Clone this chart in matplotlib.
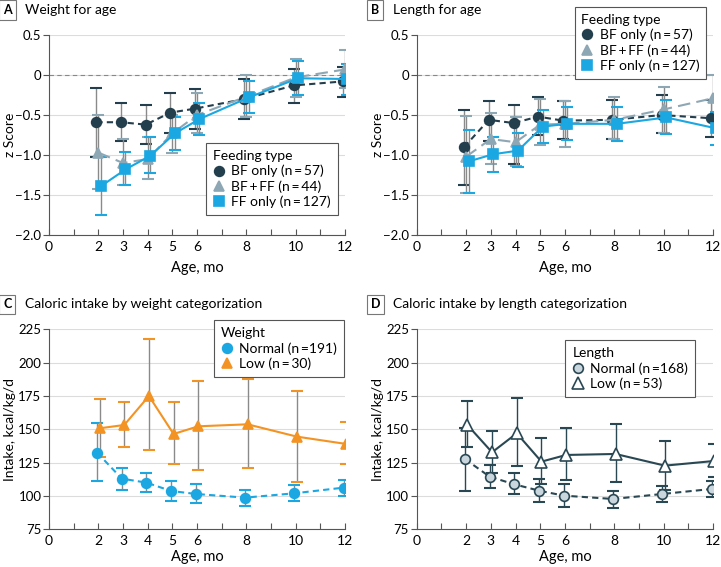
import matplotlib.pyplot as plt
from matplotlib.lines import Line2D
import numpy as np

plt.rcParams['font.family'] = ['Lato', 'DejaVu Sans']

# Months of follow-up
months = [2, 3, 4, 5, 6, 8, 10, 12]

# A: weight-for-age z scores (mean, lower CI, upper CI)
wfa_bf = [-0.59, -0.59, -0.62, -0.47, -0.42, -0.30, -0.13, -0.08]
wfa_bf_lo = [-1.02, -0.83, -0.86, -0.72, -0.67, -0.55, -0.35, -0.27]
wfa_bf_hi = [-0.16, -0.35, -0.38, -0.22, -0.17, -0.05, 0.08, 0.10]
wfa_mix = [-0.97, -1.10, -1.05, -0.73, -0.50, -0.27, -0.03, 0.07]
wfa_mix_lo = [-1.42, -1.38, -1.30, -0.97, -0.72, -0.52, -0.27, -0.16]
wfa_mix_hi = [-0.50, -0.80, -0.78, -0.50, -0.22, 0.00, 0.20, 0.31]
wfa_ff = [-1.39, -1.18, -1.01, -0.73, -0.55, -0.28, -0.04, -0.05]
wfa_ff_lo = [-1.75, -1.38, -1.23, -0.94, -0.75, -0.48, -0.25, -0.25]
wfa_ff_hi = [-1.03, -0.96, -0.78, -0.52, -0.35, -0.07, 0.17, 0.14]

# B: length-for-age z scores
lfa_bf = [-0.90, -0.56, -0.60, -0.52, -0.57, -0.56, -0.50, -0.54]
lfa_bf_lo = [-1.38, -0.83, -1.11, -0.75, -0.80, -0.80, -0.73, -0.78]
lfa_bf_hi = [-0.44, -0.32, -0.38, -0.28, -0.33, -0.31, -0.25, -0.31]
lfa_mix = [-1.02, -0.80, -0.84, -0.62, -0.61, -0.56, -0.43, -0.29]
lfa_mix_lo = [-1.47, -1.11, -1.14, -0.88, -0.90, -0.80, -0.72, -0.58]
lfa_mix_hi = [-0.51, -0.47, -0.52, -0.30, -0.33, -0.28, -0.15, 0.00]
lfa_ff = [-1.08, -0.99, -0.945, -0.645, -0.61, -0.61, -0.53, -0.665]
lfa_ff_lo = [-1.47, -1.21, -1.15, -0.855, -0.81, -0.82, -0.74, -0.875]
lfa_ff_hi = [-0.69, -0.77, -0.73, -0.44, -0.40, -0.40, -0.31, -0.46]

# C: caloric intake by weight category (kcal/kg/d)
cw_norm = [132.5, 113, 110, 103.75, 101.5, 98.75, 102, 106.25]
cw_norm_lo = [111.5, 104.75, 103, 96.25, 94.5, 92.5, 96.5, 100.25]
cw_norm_hi = [154.5, 120.75, 117.5, 111.25, 109.25, 104.75, 108, 112.25]
cw_low = [150.75, 153.25, 175, 146.5, 152.25, 153.75, 144.5, 139]
cw_low_lo = [129, 136.75, 134.5, 124, 119.5, 121, 110.5, 124]
cw_low_hi = [172.75, 170.25, 217.5, 170.5, 186, 187.5, 179, 155.75]

# D: caloric intake by length category
cl_norm = [127.75, 114.5, 108.75, 104, 100.25, 97.75, 101.5, 105.25]
cl_norm_lo = [104, 105.75, 101.25, 95.75, 92, 91.25, 95.5, 99]
cl_norm_hi = [150.75, 123.25, 117, 112.75, 108.75, 104, 107.75, 111.25]
cl_low = [153.25, 132.75, 147, 125.75, 130.75, 131.5, 122.75, 126.25]
cl_low_lo = [136.5, 117.5, 122.75, 109, 111.75, 110.25, 104.25, 114.5]
cl_low_hi = [171.5, 149, 173.25, 143.75, 151.25, 153.75, 141.5, 138.75]

DARK = '#233e4d'
MIX = '#8ea7b5'
BLUE = '#1ba7e1'
ORANGE = '#f39323'
TEAL = '#2a4853'
STEM = '#8a8a8a'

fig = plt.figure(figsize=(7.21, 5.67), dpi=100)


def setup(ax, ylim, yticks, ylabel, zero_line=False, xpad=6):
    ax.set_xlim(0, 12)
    ax.set_ylim(*ylim)
    ax.set_yticks(yticks)
    ax.set_xticks(range(13))
    ax.set_xticklabels(['0', '', '2', '3', '4', '5', '6', '', '8', '', '10', '', '12'])
    ax.set_xlabel('Age, mo', fontsize=10.5, labelpad=xpad)
    ax.set_ylabel(ylabel, fontsize=10)
    ax.yaxis.set_label_coords(-0.112, 0.5)
    for s in ['top', 'right']:
        ax.spines[s].set_visible(False)
    for s in ['left', 'bottom']:
        ax.spines[s].set_color('#555555')
        ax.spines[s].set_linewidth(0.8)
    ax.tick_params(axis='x', direction='in', length=4, color='#555555', labelsize=10, pad=4)
    ax.tick_params(axis='y', direction='out', length=4, color='#555555', labelsize=9.5, pad=1.5)
    ax.grid(axis='y', color='#dcdcdc', linewidth=0.8)
    ax.set_axisbelow(True)
    if zero_line:
        ax.axhline(0, color='#888888', linestyle=(0, (4, 3)), linewidth=0.8, zorder=1)


def series(ax, dx, y, lo, hi, color, marker, ls, stem, mfc=None, ms=7, z=3):
    x = np.array(months) + dx
    ax.vlines(x, lo, hi, color=stem, linewidth=1, zorder=z)
    ax.plot(x, lo, '_', color=color, ms=8, mew=1.5, zorder=z)
    ax.plot(x, hi, '_', color=color, ms=8, mew=1.5, zorder=z)
    ax.plot(x, y, color=color, linestyle=ls, linewidth=1.5, marker=marker, ms=ms,
            markerfacecolor=mfc if mfc else color, markeredgecolor=color,
            markeredgewidth=1.2, zorder=z + 1)
    return Line2D([], [], linestyle='none', marker=marker, ms=ms, color=color,
                  markerfacecolor=mfc if mfc else color, markeredgecolor=color,
                  markeredgewidth=1.2)


def panel_title(ax, letter, title):
    ax.text(-0.155, 1.125, letter, transform=ax.transAxes, fontsize=9, fontweight='bold',
            ha='left', va='center',
            bbox=dict(boxstyle='square,pad=0.3', fc='white', ec='#777777', lw=0.8))
    ax.text(-0.08, 1.125, title, transform=ax.transAxes, fontsize=10, ha='left', va='center')


def legend(ax, handles, labels, title, loc, anchor):
    leg = ax.legend(handles, labels, title=title, loc=loc, bbox_to_anchor=anchor, fontsize=10,
                    title_fontsize=10, frameon=True, fancybox=False, handlelength=0.8,
                    handletextpad=0.5, borderpad=0.5, labelspacing=0.2,
                    alignment='left', framealpha=1)
    leg.get_frame().set_edgecolor('#555555')
    leg.get_frame().set_linewidth(0.8)
    leg.set_zorder(10)
    return leg


feed_labels = ['BF only (n\u2009=\u200957)', 'BF\u2009+\u2009FF (n\u2009=\u200944)',
               'FF only (n\u2009=\u2009127)']
z_ticks = [-2.0, -1.5, -1.0, -0.5, 0, 0.5]
z_ticklabels = ['\u22122.0', '\u22121.5', '\u22121.0', '\u22120.5', '0', '0.5']
kcal_ticks = [75, 100, 125, 150, 175, 200, 225]

# Panel A
axA = fig.add_axes([0.068, 0.5855, 0.4105, 0.3527])
setup(axA, (-2.0, 0.5), z_ticks, 'z Score', zero_line=True)
axA.set_yticklabels(z_ticklabels)
h1 = series(axA, -0.08, wfa_bf, wfa_bf_lo, wfa_bf_hi, DARK, 'o', (0, (3, 2)), STEM)
h2 = series(axA, 0.0, wfa_mix, wfa_mix_lo, wfa_mix_hi, MIX, '^', (0, (6, 3)), STEM)
h3 = series(axA, 0.1, wfa_ff, wfa_ff_lo, wfa_ff_hi, BLUE, 's', '-', STEM)
legend(axA, [h1, h2, h3], feed_labels, 'Feeding type', 'lower right', (1.0, 0.065))
panel_title(axA, 'A', 'Weight for age')

# Panel B
axB = fig.add_axes([0.578, 0.5855, 0.411, 0.3527])
setup(axB, (-2.0, 0.5), z_ticks, 'z Score', zero_line=True)
axB.set_yticklabels(z_ticklabels)
h1 = series(axB, -0.08, lfa_bf, lfa_bf_lo, lfa_bf_hi, DARK, 'o', (0, (3, 2)), STEM)
h2 = series(axB, 0.0, lfa_mix, lfa_mix_lo, lfa_mix_hi, MIX, '^', (0, (6, 3)), STEM)
h3 = series(axB, 0.1, lfa_ff, lfa_ff_lo, lfa_ff_hi, BLUE, 's', '-', STEM)
legend(axB, [h1, h2, h3], feed_labels, 'Feeding type', 'upper right', (1.0, 1.175))
panel_title(axB, 'B', 'Length for age')

# Panel C
axC = fig.add_axes([0.068, 0.0665, 0.4105, 0.3527])
setup(axC, (75, 225), kcal_ticks, 'Intake, kcal/kg/d', xpad=2)
h1 = series(axC, -0.05, cw_norm, cw_norm_lo, cw_norm_hi, BLUE, 'o', (0, (3, 2)), STEM)
h2 = series(axC, 0.05, cw_low, cw_low_lo, cw_low_hi, ORANGE, '^', '-', STEM)
legend(axC, [h1, h2], ['Normal (n\u2009=191)', 'Low (n\u2009=\u200930)'], 'Weight',
       'upper right', (1.02, 1.08))
panel_title(axC, 'C', 'Caloric intake by weight categorization')

# Panel D
axD = fig.add_axes([0.578, 0.0665, 0.411, 0.3527])
setup(axD, (75, 225), kcal_ticks, 'Intake, kcal/kg/d', xpad=2)
h1 = series(axD, -0.05, cl_norm, cl_norm_lo, cl_norm_hi, TEAL, 'o', (0, (3, 2)), TEAL, mfc='#c9d6de')
h2 = series(axD, 0.05, cl_low, cl_low_lo, cl_low_hi, TEAL, '^', '-', TEAL, mfc='white', ms=8)
legend(axD, [h1, h2], ['Normal (n\u2009=168)', 'Low (n\u2009=\u200953)'], 'Length',
       'upper right', (0.963, 0.98))
panel_title(axD, 'D', 'Caloric intake by length categorization')

fig.savefig('out.png', dpi=100)
